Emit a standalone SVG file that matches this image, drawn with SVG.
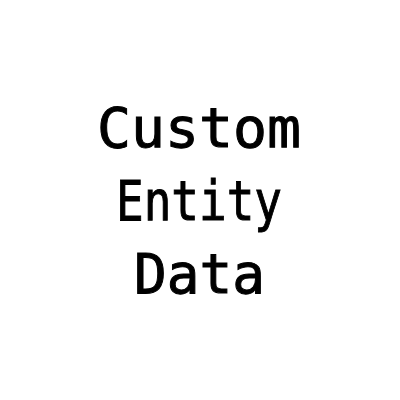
<svg xmlns="http://www.w3.org/2000/svg" width="400" height="400" viewBox="0 0 400 400">
<style>
.t{font-family:"DejaVu Sans Mono","Liberation Mono",monospace;font-size:56px;font-weight:normal;fill:#000;stroke:#000;stroke-width:1px;text-anchor:middle}
</style>
<rect width="400" height="400" fill="#fff"/>
<g id="title">
<text class="t" x="199" y="147" textLength="204" lengthAdjust="spacingAndGlyphs">Custom</text>
<text class="t" x="199" y="220" textLength="166" lengthAdjust="spacingAndGlyphs">Entity</text>
<text class="t" x="199.5" y="293" textLength="131" lengthAdjust="spacingAndGlyphs">Data</text>
</g>
</svg>
